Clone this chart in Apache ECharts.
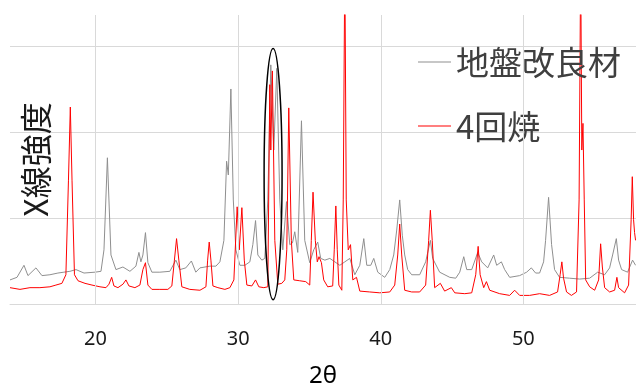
<!DOCTYPE html>
<html>
<head>
<meta charset="utf-8">
<script src="https://cdn.jsdelivr.net/npm/echarts@6/dist/echarts.min.js"></script>
<style>
html, body { margin: 0; padding: 0; background: #fff; }
#XrdChart { width: 636px; height: 390px; }
</style>
</head>
<body>
<div id="XrdChart"></div>
<script>
// 系列名
var seriesNames = ['地盤改良材', '4回焼'];
// 目盛り (2θ)
var xTicks = [20, 30, 40, 50];

// 地盤改良材 (灰)
var grayDeg = [14.00, 14.49, 14.98, 15.26, 15.82, 16.24, 16.80, 17.36, 17.78, 18.20, 18.63, 19.19, 19.96, 20.38, 20.59, 20.83, 21.08, 21.43, 21.92, 22.41,
    22.83, 23.04, 23.18, 23.32, 23.50, 23.67, 23.95, 24.51, 25.21, 25.63, 25.91, 26.33, 26.72, 27.03, 27.32, 28.02, 28.44, 28.72, 29.00, 29.19,
    29.31, 29.49, 29.66, 29.84, 30.12, 30.47, 30.82, 31.03, 31.22, 31.38, 31.66, 31.87, 32.08, 32.29, 32.50, 32.71, 32.92, 33.13, 33.39, 33.62,
    33.81, 33.97, 34.18, 34.44, 34.67, 35.02, 35.30, 35.58, 35.79, 36.08, 36.43, 36.78, 37.13, 37.48, 37.83, 38.18, 38.53, 38.81, 39.02, 39.30,
    39.51, 39.79, 40.28, 40.63, 40.91, 41.12, 41.33, 41.51, 41.68, 41.89, 42.17, 42.73, 43.15, 43.48, 43.64, 44.13, 44.84, 45.26, 45.54, 45.82,
    46.03, 46.38, 46.80, 47.08, 47.50, 47.92, 48.13, 48.46, 48.69, 49.04, 49.74, 50.23, 50.56, 50.86, 51.14, 51.42, 51.56, 51.77, 51.98, 52.19,
    52.54, 53.24, 53.95, 54.65, 55.21, 55.70, 56.05, 56.26, 56.52, 56.68, 56.89, 57.31, 57.66, 57.87];
var grayInt = [0.28, 0.31, 0.45, 0.33, 0.42, 0.33, 0.34, 0.36, 0.37, 0.38, 0.40, 0.36, 0.37, 0.38, 0.63, 1.70, 0.57, 0.40, 0.43, 0.38,
    0.44, 0.60, 0.49, 0.57, 0.83, 0.48, 0.37, 0.37, 0.38, 0.51, 0.40, 0.42, 0.50, 0.37, 0.42, 0.44, 0.44, 0.49, 0.74, 1.66,
    1.50, 2.50, 1.21, 0.63, 0.45, 0.45, 0.49, 0.69, 0.97, 0.57, 0.51, 0.53, 1.21, 2.78, 1.79, 2.74, 1.21, 0.63, 1.19, 0.69,
    0.71, 0.84, 0.60, 2.13, 0.74, 0.48, 0.63, 0.72, 0.53, 0.51, 0.53, 0.49, 0.45, 0.49, 0.53, 0.34, 0.45, 0.76, 0.45, 0.45,
    0.53, 0.37, 0.31, 0.40, 0.57, 0.86, 1.21, 0.80, 0.57, 0.40, 0.34, 0.34, 0.49, 0.74, 0.53, 0.37, 0.31, 0.30, 0.37, 0.55,
    0.40, 0.40, 0.60, 0.49, 0.42, 0.57, 0.45, 0.49, 0.40, 0.31, 0.33, 0.37, 0.42, 0.36, 0.36, 0.49, 0.74, 1.24, 0.69, 0.40,
    0.31, 0.30, 0.29, 0.30, 0.37, 0.34, 0.42, 0.57, 0.76, 0.51, 0.40, 0.37, 0.51, 0.45];

// 4回焼 (赤)
var redDeg = [14.00, 14.70, 15.40, 16.10, 16.80, 17.22, 17.64, 17.92, 18.10, 18.23, 18.35, 18.52, 18.77, 19.26, 19.75, 20.31, 20.73, 20.94, 21.13, 21.29,
    21.57, 21.92, 22.13, 22.34, 22.76, 23.11, 23.32, 23.50, 23.67, 23.95, 24.51, 25.07, 25.35, 25.53, 25.68, 25.84, 26.05, 26.61, 27.32, 27.74,
    27.86, 27.97, 28.09, 28.23, 28.58, 29.07, 29.42, 29.70, 29.93, 30.08, 30.26, 30.43, 30.61, 30.96, 31.22, 31.45, 31.80, 32.08, 32.22, 32.29,
    32.40, 32.57, 32.78, 33.06, 33.27, 33.41, 33.55, 33.73, 33.90, 34.32, 34.74, 35.02, 35.13, 35.25, 35.41, 35.55, 35.67, 35.84, 36.00, 36.28,
    36.63, 36.74, 36.85, 36.95, 37.06, 37.27, 37.37, 37.48, 37.58, 37.72, 37.88, 38.04, 38.30, 38.53, 39.23, 39.93, 40.63, 40.98, 41.19, 41.33,
    41.47, 41.68, 42.17, 42.73, 43.15, 43.36, 43.48, 43.61, 43.78, 44.18, 44.48, 44.95, 45.19, 45.89, 46.38, 46.66, 46.83, 46.97, 47.22, 47.41,
    47.64, 48.34, 49.04, 49.39, 49.74, 50.44, 51.14, 51.84, 52.40, 52.58, 52.70, 52.82, 53.03, 53.37, 53.73, 53.91, 54.02, 54.10, 54.18, 54.27,
    54.37, 54.65, 55.00, 55.28, 55.42, 55.54, 55.70, 56.05, 56.40, 56.56, 56.68, 57.10, 57.38, 57.56, 57.64, 57.73, 57.80, 57.87];
var redInt = [0.19, 0.17, 0.19, 0.19, 0.20, 0.22, 0.24, 0.34, 1.44, 2.29, 1.44, 0.34, 0.27, 0.24, 0.22, 0.20, 0.19, 0.23, 0.31, 0.21,
    0.19, 0.23, 0.28, 0.21, 0.19, 0.22, 0.40, 0.48, 0.22, 0.17, 0.17, 0.17, 0.21, 0.51, 0.76, 0.51, 0.20, 0.17, 0.16, 0.20,
    0.51, 0.72, 0.51, 0.21, 0.19, 0.17, 0.19, 0.28, 1.13, 0.63, 1.12, 0.51, 0.22, 0.21, 0.28, 0.20, 0.19, 0.20, 2.55, 1.79,
    2.71, 0.74, 0.23, 0.24, 0.28, 0.63, 2.28, 0.74, 0.28, 0.27, 0.26, 0.22, 0.74, 1.30, 0.74, 0.49, 0.55, 0.48, 0.28, 0.20,
    0.21, 0.63, 1.14, 0.63, 0.22, 0.16, 1.21, 4.00, 1.21, 0.63, 0.69, 0.28, 0.31, 0.15, 0.14, 0.13, 0.14, 0.22, 0.57, 0.93,
    0.57, 0.16, 0.14, 0.14, 0.22, 0.74, 1.09, 0.74, 0.19, 0.24, 0.15, 0.19, 0.13, 0.12, 0.13, 0.34, 0.67, 0.34, 0.19, 0.26,
    0.16, 0.12, 0.10, 0.16, 0.10, 0.10, 0.12, 0.10, 0.14, 0.34, 0.49, 0.30, 0.14, 0.10, 0.14, 1.21, 4.00, 1.79, 2.10, 1.21,
    0.28, 0.20, 0.16, 0.28, 0.70, 0.43, 0.19, 0.14, 0.16, 0.31, 0.19, 0.13, 0.22, 0.98, 1.48, 0.98, 0.83, 0.74];

// 楕円 (注目ピーク) : 中心と半径 (データ単位)
var ringCenter = [32.45, 1.51];
var ringRadius = [0.63, 1.46];

function pairs(xs, ys) {
    var out = [];
    for (var i = 0; i < xs.length; i++) {
        out.push([xs[i], ys[i]]);
    }
    return out;
}

var myChart = echarts.init(document.getElementById('XrdChart'));

var option = {
    animation: false,
    grid: {
        left: 10,
        right: 0,
        top: 15,
        bottom: 86,
        outerBoundsMode: 'none'
    },
    legend: {
        data: seriesNames,
        orient: 'vertical',
        left: 413,
        top: 37,
        icon: 'rect',
        itemWidth: 33,
        itemHeight: 1,
        itemGap: 24,
        textStyle: {
            fontFamily: 'Noto Sans CJK JP',
            fontSize: 33,
            lineHeight: 40,
            color: '#3f3f3f'
        }
    },
    xAxis: {
        type: 'value',
        min: 14,
        max: 57.9,
        interval: 2,
        name: '2θ',
        nameLocation: 'middle',
        nameGap: 60,
        nameTextStyle: {
            fontFamily: 'Noto Sans',
            fontSize: 24,
            color: '#000'
        },
        axisLine: {
            lineStyle: {color: '#d9d9d9', width: 1}
        },
        axisTick: {show: false},
        splitLine: {show: false},
        axisLabel: {
            interval: 0,
            margin: 25,
            fontFamily: 'Noto Sans',
            fontSize: 20,
            color: '#1a1a1a',
            formatter: function (v) {
                return xTicks.indexOf(v) >= 0 ? String(v) : '';
            }
        }
    },
    yAxis: {
        type: 'value',
        min: 0,
        max: 3.36,
        interval: 1,
        name: 'X線強度',
        nameLocation: 'middle',
        nameGap: -42,
        nameTextStyle: {
            fontFamily: 'Noto Sans CJK JP',
            fontSize: 32,
            color: '#1a1a1a'
        },
        axisLine: {show: false},
        axisTick: {show: false},
        axisLabel: {show: false},
        splitLine: {
            show: true,
            showMaxLine: false,
            lineStyle: {color: '#d9d9d9', width: 1}
        }
    },
    series: [
        {
            name: seriesNames[0],
            type: 'line',
            z: 2,
            symbol: 'none',
            lineStyle: {color: '#8f8f8f', width: 1},
            itemStyle: {color: '#8f8f8f'},
            data: pairs(grayDeg, grayInt),
            markLine: {
                silent: true,
                symbol: 'none',
                label: {show: false},
                lineStyle: {color: '#d9d9d9', width: 1, type: 'solid'},
                data: xTicks.map(function (v) { return {xAxis: v}; })
            }
        },
        {
            name: seriesNames[1],
            type: 'line',
            z: 3,
            symbol: 'none',
            lineStyle: {color: '#ff0000', width: 1},
            itemStyle: {color: '#ff0000'},
            data: pairs(redDeg, redInt)
        }
    ]
};
myChart.setOption(option);

// 楕円を座標系から配置
var c = myChart.convertToPixel({gridIndex: 0}, ringCenter);
var e = myChart.convertToPixel({gridIndex: 0}, [ringCenter[0] + ringRadius[0], ringCenter[1] + ringRadius[1]]);
myChart.setOption({
    graphic: [{
        type: 'ellipse',
        z: 10,
        silent: true,
        shape: {cx: c[0], cy: c[1], rx: Math.abs(e[0] - c[0]), ry: Math.abs(c[1] - e[1])},
        style: {fill: 'none', stroke: '#000', lineWidth: 1.5}
    }]
});
</script>
</body>
</html>
